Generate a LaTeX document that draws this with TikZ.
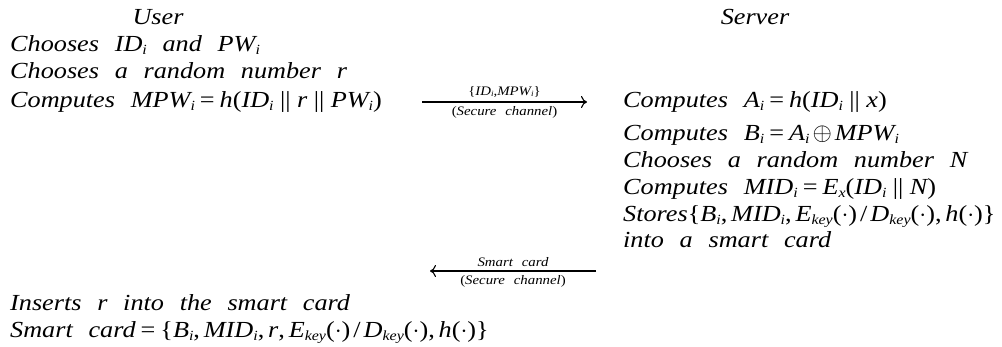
\documentclass[tikz,border=0pt]{standalone}
\usepackage{fontspec}
\setmainfont[FakeStretch=1.14,WordSpace={2.4}]{Liberation Serif}
\usetikzlibrary{arrows.meta}
% small, slightly lowered subscripts in the running italic
\newcommand\sbi[1]{\raisebox{-0.2ex}{\fontsize{14}{14}\selectfont #1}}
\newcommand\ssbi[1]{\raisebox{-0.2ex}{\fontsize{8}{8}\selectfont #1}}
\newcommand\upr[1]{{\upshape #1}}
\newcommand\cat{\upr{\hspace{6.5pt}||\hspace{6.5pt}}}
\newcommand\eqs{\upr{\hspace{5pt}=\hspace{5pt}}}
\newcommand\slsh{\upr{\hspace{3pt}/\hspace{3pt}}}
\newcommand\dotarg{\upr{($\cdot$)}}
\tikzset{
  txt/.style={anchor=base west,inner sep=0pt,font=\fontsize{23}{26}\selectfont\itshape},
  hdr/.style={anchor=base,inner sep=0pt,font=\fontsize{23}{26}\selectfont\itshape},
  lbl/.style={inner sep=0pt,font=\fontsize{13}{14}\selectfont\itshape},
  msg/.style={line width=1.3pt,-{To[length=6pt,width=12pt,line width=1.1pt]}},
}
\begin{document}
\begin{tikzpicture}[x=1pt,y=-1pt]
\useasboundingbox (0,0) rectangle (1002,347);
% headers
\node[hdr] (user) at (158,25) {User};
\node[hdr] (server) at (755,25) {Server};
% user side, registration
\node[txt] (u1) at (10,52) {Chooses ID\sbi{i} and PW\sbi{i}};
\node[txt] (u2) at (10,79) {Chooses a random number r};
\node[txt] (u3) at (10,108) {Computes MPW\sbi{i}\eqs h\upr{(}ID\sbi{i}\cat r\cat PW\sbi{i}\upr{)}};
% server side
\node[txt] (s1) at (623,108) {Computes A\sbi{i}\eqs h\upr{(}ID\sbi{i}\cat x\upr{)}};
\node[txt] (s2) at (623,141) {Computes B\sbi{i}\eqs A\sbi{i}\hspace{3pt}$\oplus$\hspace{3pt}MPW\sbi{i}};
\node[txt] (s3) at (623,168) {Chooses a random number N};
\node[txt] (s4) at (623,195) {Computes MID\sbi{i}\eqs E\sbi{x}\upr{(}ID\sbi{i}\cat N\upr{)}};
\node[txt] (s5) at (623,222) {Stores\upr{\{}B\sbi{i}\upr{,}\,MID\sbi{i}\upr{,}\,E\sbi{key}\dotarg\slsh D\sbi{key}\dotarg\upr{,}\,h\dotarg\upr{\}}};
\node[txt] (s6) at (623,248) {into a smart card};
% user side, after receiving the card
\node[txt] (u4) at (10,311) {Inserts r into the smart card};
\node[txt] (u5) at (10,338) {Smart card\eqs\upr{\{}B\sbi{i}\upr{,}\,MID\sbi{i}\upr{,}\,r\upr{,}\,E\sbi{key}\dotarg\slsh D\sbi{key}\dotarg\upr{,}\,h\dotarg\upr{\}}};
% message arrows
\coordinate (a1s) at (422,102);
\coordinate (a1e) at (587,102);
\draw[msg] (a1s) -- node[lbl,above=4pt] (m1) {\upr{\{}ID\ssbi{i}\upr{,}MPW\ssbi{i}\upr{\}}} node[lbl,below=4pt] (c1) {\upr{(}Secure channel\upr{)}} (a1e);
\coordinate (a2s) at (596,271);
\coordinate (a2e) at (430,271);
\draw[msg] (a2s) -- node[lbl,above=4pt] (m2) {Smart card} node[lbl,below=4pt] (c2) {\upr{(}Secure channel\upr{)}} (a2e);
\end{tikzpicture}
\end{document}
